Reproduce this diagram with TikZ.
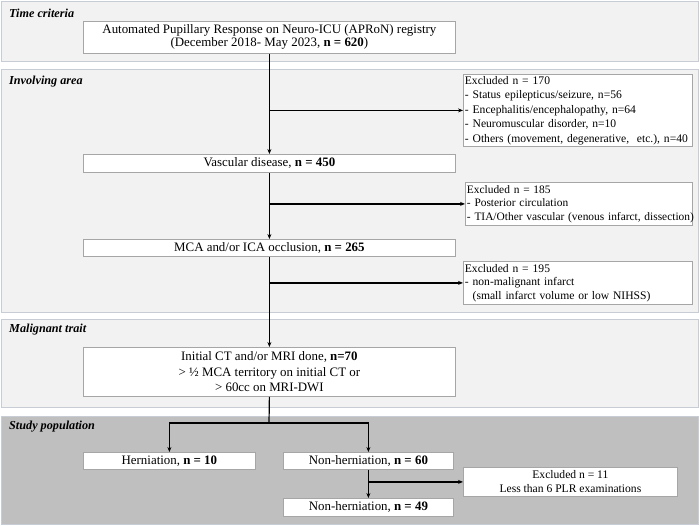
\documentclass[tikz,border=0pt]{standalone}
\usepackage{fontspec}
\setmainfont{Liberation Serif}
\usetikzlibrary{arrows.meta}

\definecolor{panelfill}{HTML}{F2F2F2}
\definecolor{paneldraw}{HTML}{C8CCD4}
\definecolor{studyfill}{HTML}{BFBFBF}
\definecolor{boxdraw}{HTML}{A6A6A6}

\begin{document}
\begin{tikzpicture}[x=1pt,y=-1pt,
    panel/.style={fill=panelfill,draw=paneldraw,line width=1pt},
    stagelabel/.style={anchor=west,inner sep=0pt,
      font=\fontsize{12.2}{14}\selectfont\bfseries\itshape},
    flowbox/.style={draw=boxdraw,fill=white,line width=0.8pt,anchor=north west,
      inner sep=0pt,align=center,font=\fontsize{12.9}{14}\selectfont},
    exbox/.style={flowbox,inner xsep=1.5pt,align=left},
    flow/.style={-{Stealth[length=5pt,width=4pt]},line width=1.2pt}]

      \useasboundingbox (0,0) rectangle (700,525);

      % The four stages as grey bands.
      \draw[panel] (1,1) rectangle (698,61);
      \draw[panel] (1,69) rectangle (698,312);
      \draw[panel] (1,319) rectangle (698,407);
      \draw[panel,fill=studyfill] (1,416) rectangle (698,524);

      \node[stagelabel] (timelabel) at (9,13) {Time criteria};
      \node[stagelabel] (arealabel) at (9,82) {Involving area};
      \node[stagelabel] (traitlabel) at (9,330) {Malignant trait};
      \node[stagelabel] (studylabel) at (9,427) {Study population};

      % Main column of the flow chart.
      \node[flowbox,minimum width=372pt,minimum height=32pt,
      font=\fontsize{12.9}{13}\selectfont] (registry) at (83,21)
      {Automated Pupillary Response on Neuro-ICU (APRoN) registry\\
        (December 2018- May 2023, \textbf{n = 620})};

      \node[flowbox,minimum width=372pt,minimum height=18pt] (vascular)
      at (83,154) {Vascular disease, \textbf{n = 450}};

      \node[flowbox,minimum width=372pt,minimum height=17pt] (occlusion)
      at (83,239) {MCA and/or ICA occlusion, \textbf{n = 265}};

      \node[flowbox,minimum width=372pt,minimum height=49pt,
      font=\fontsize{12.9}{15.5}\selectfont] (imaging) at (83,347)
      {Initial CT and/or MRI done, \textbf{n=70}\\
        > ½ MCA territory on initial CT or\\
        > 60cc on MRI-DWI};

      \node[flowbox,minimum width=172pt,minimum height=17pt] (herniation)
      at (83,452) {Herniation, \textbf{n = 10}};

      \node[flowbox,minimum width=170pt,minimum height=17pt] (nonhern)
      at (283,452) {Non-herniation, \textbf{n = 60}};

      \node[flowbox,minimum width=170pt,minimum height=18pt] (nonhernfinal)
      at (283,498) {Non-herniation, \textbf{n = 49}};

      % Boxes of the excluded patients.
      \node[exbox,text width=226pt,minimum height=72pt,
      font=\fontsize{11.6}{14.5}\selectfont] (exclA) at (463,74)
      {Excluded n = 170\\
        - Status epilepticus/seizure, n=56\\
        - Encephalitis/encephalopathy, n=64\\
        - Neuromuscular disorder, n=10\\
        - Others (movement, degenerative,\ \ etc.), n=40};

      \node[exbox,text width=224pt,minimum height=43pt,
      font=\fontsize{11.4}{13.5}\selectfont] (exclB) at (465,182)
      {Excluded n = 185\\
        - Posterior circulation\\
        \mbox{- TIA/Other vascular (venous infarct, dissection)}};

      \node[exbox,text width=226pt,minimum height=43pt,
      font=\fontsize{11.6}{13.5}\selectfont] (exclC) at (463,261)
      {Excluded n = 195\\
        - non-malignant infarct\\
        \ \ (small infarct volume or low NIHSS)};

      \node[flowbox,minimum width=214pt,minimum height=29pt,
      font=\fontsize{11.6}{14}\selectfont] (exclD) at (463,467)
      {Excluded n = 11\\ Less than 6 PLR examinations};

      % Connectors.
      \draw[flow] (registry.south) -- (vascular.north);
      \draw[flow] (registry.south |- exclA.west) -- (exclA.west);
      \draw[flow] (vascular.south) -- (occlusion.north);
      \draw[flow] (vascular.south |- exclB.west) -- (exclB.west);
      \draw[flow] (occlusion.south) -- (imaging.north);
      \draw[flow] (occlusion.south |- exclC.west) -- (exclC.west);

      \coordinate (split) at (269,423);
      \draw[line width=1.2pt] (imaging.south) -- (split);
      \draw[flow] (split) -| (herniation.north);
      \draw[flow] (split) -| (nonhern.north);
      \draw[flow] (nonhern.south) -- (nonhernfinal.north);
      \draw[flow] (nonhern.south |- exclD.west) -- (exclD.west);
\end{tikzpicture}
\end{document}
